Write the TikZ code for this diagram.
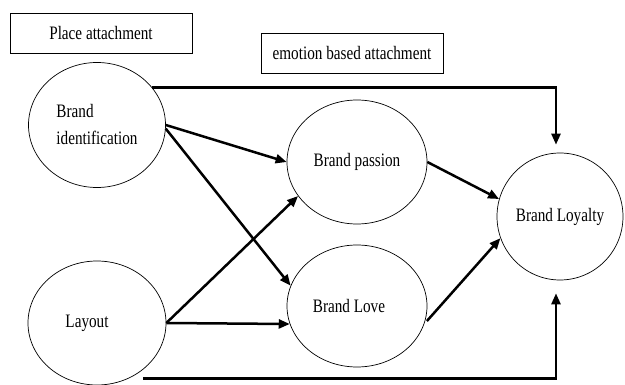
\documentclass[tikz,border=0pt]{standalone}
\usepackage{fontspec}
\setmainfont[FakeStretch=0.8]{Liberation Serif}
\usetikzlibrary{arrows.meta,shapes,calc}

\begin{document}
\begin{tikzpicture}[x=1pt,y=-1pt,>={Triangle[length=11pt,width=9pt]},latent/.style ={ellipse, draw, line width=0.7pt, inner sep=0pt, inner xsep=-4pt, font=\fontsize{19}{27}\selectfont},box/.style ={rectangle, draw, line width=0.7pt, minimum width=182pt, minimum height=40pt, font=\fontsize{19}{22}\selectfont},link/.style={->,line width=2.5pt}]
\useasboundingbox (0,0) rectangle (625,385);
\draw (101,33) node[box] (P) {Place attachment};
\draw (352,53) node[box] (E) {emotion based attachment};
\draw (97,125) node[latent,minimum width=137pt,minimum height=125pt,align=left] (BI) {Brand\\identification};
\draw (97,323) node[latent,minimum width=138pt,minimum height=124pt] (L) {Layout\hspace*{20pt}};
\draw (357,162) node[latent,minimum width=140pt,minimum height=124pt] (BP) {Brand passion};
\draw (357,306) node[latent,minimum width=140pt,minimum height=122pt] (BL) {Brand Love\hspace*{16pt}};
\draw (560,216.5) node[latent,minimum width=126pt,minimum height=127pt] (BY) {Brand Loyalty};
\draw[link] (BI.east)--(BP.west);
\draw[link] (BI.-3)--(BL.163);
\draw[link] (L.east)--(BP.210);
\draw[link] (L.east)--(BL.195);
\draw[link] (BP.east)--(BY.164);
\draw[link,shorten <=4pt] (BL.-15)--(BY.200);
\draw[link] (BI.34) -| ([xshift=-4pt,yshift=8pt]BY.north);
\draw[link] ([yshift=-9pt]L.-45) -| ([xshift=-4pt,yshift=-13pt]BY.south);
\end{tikzpicture}
\end{document}
